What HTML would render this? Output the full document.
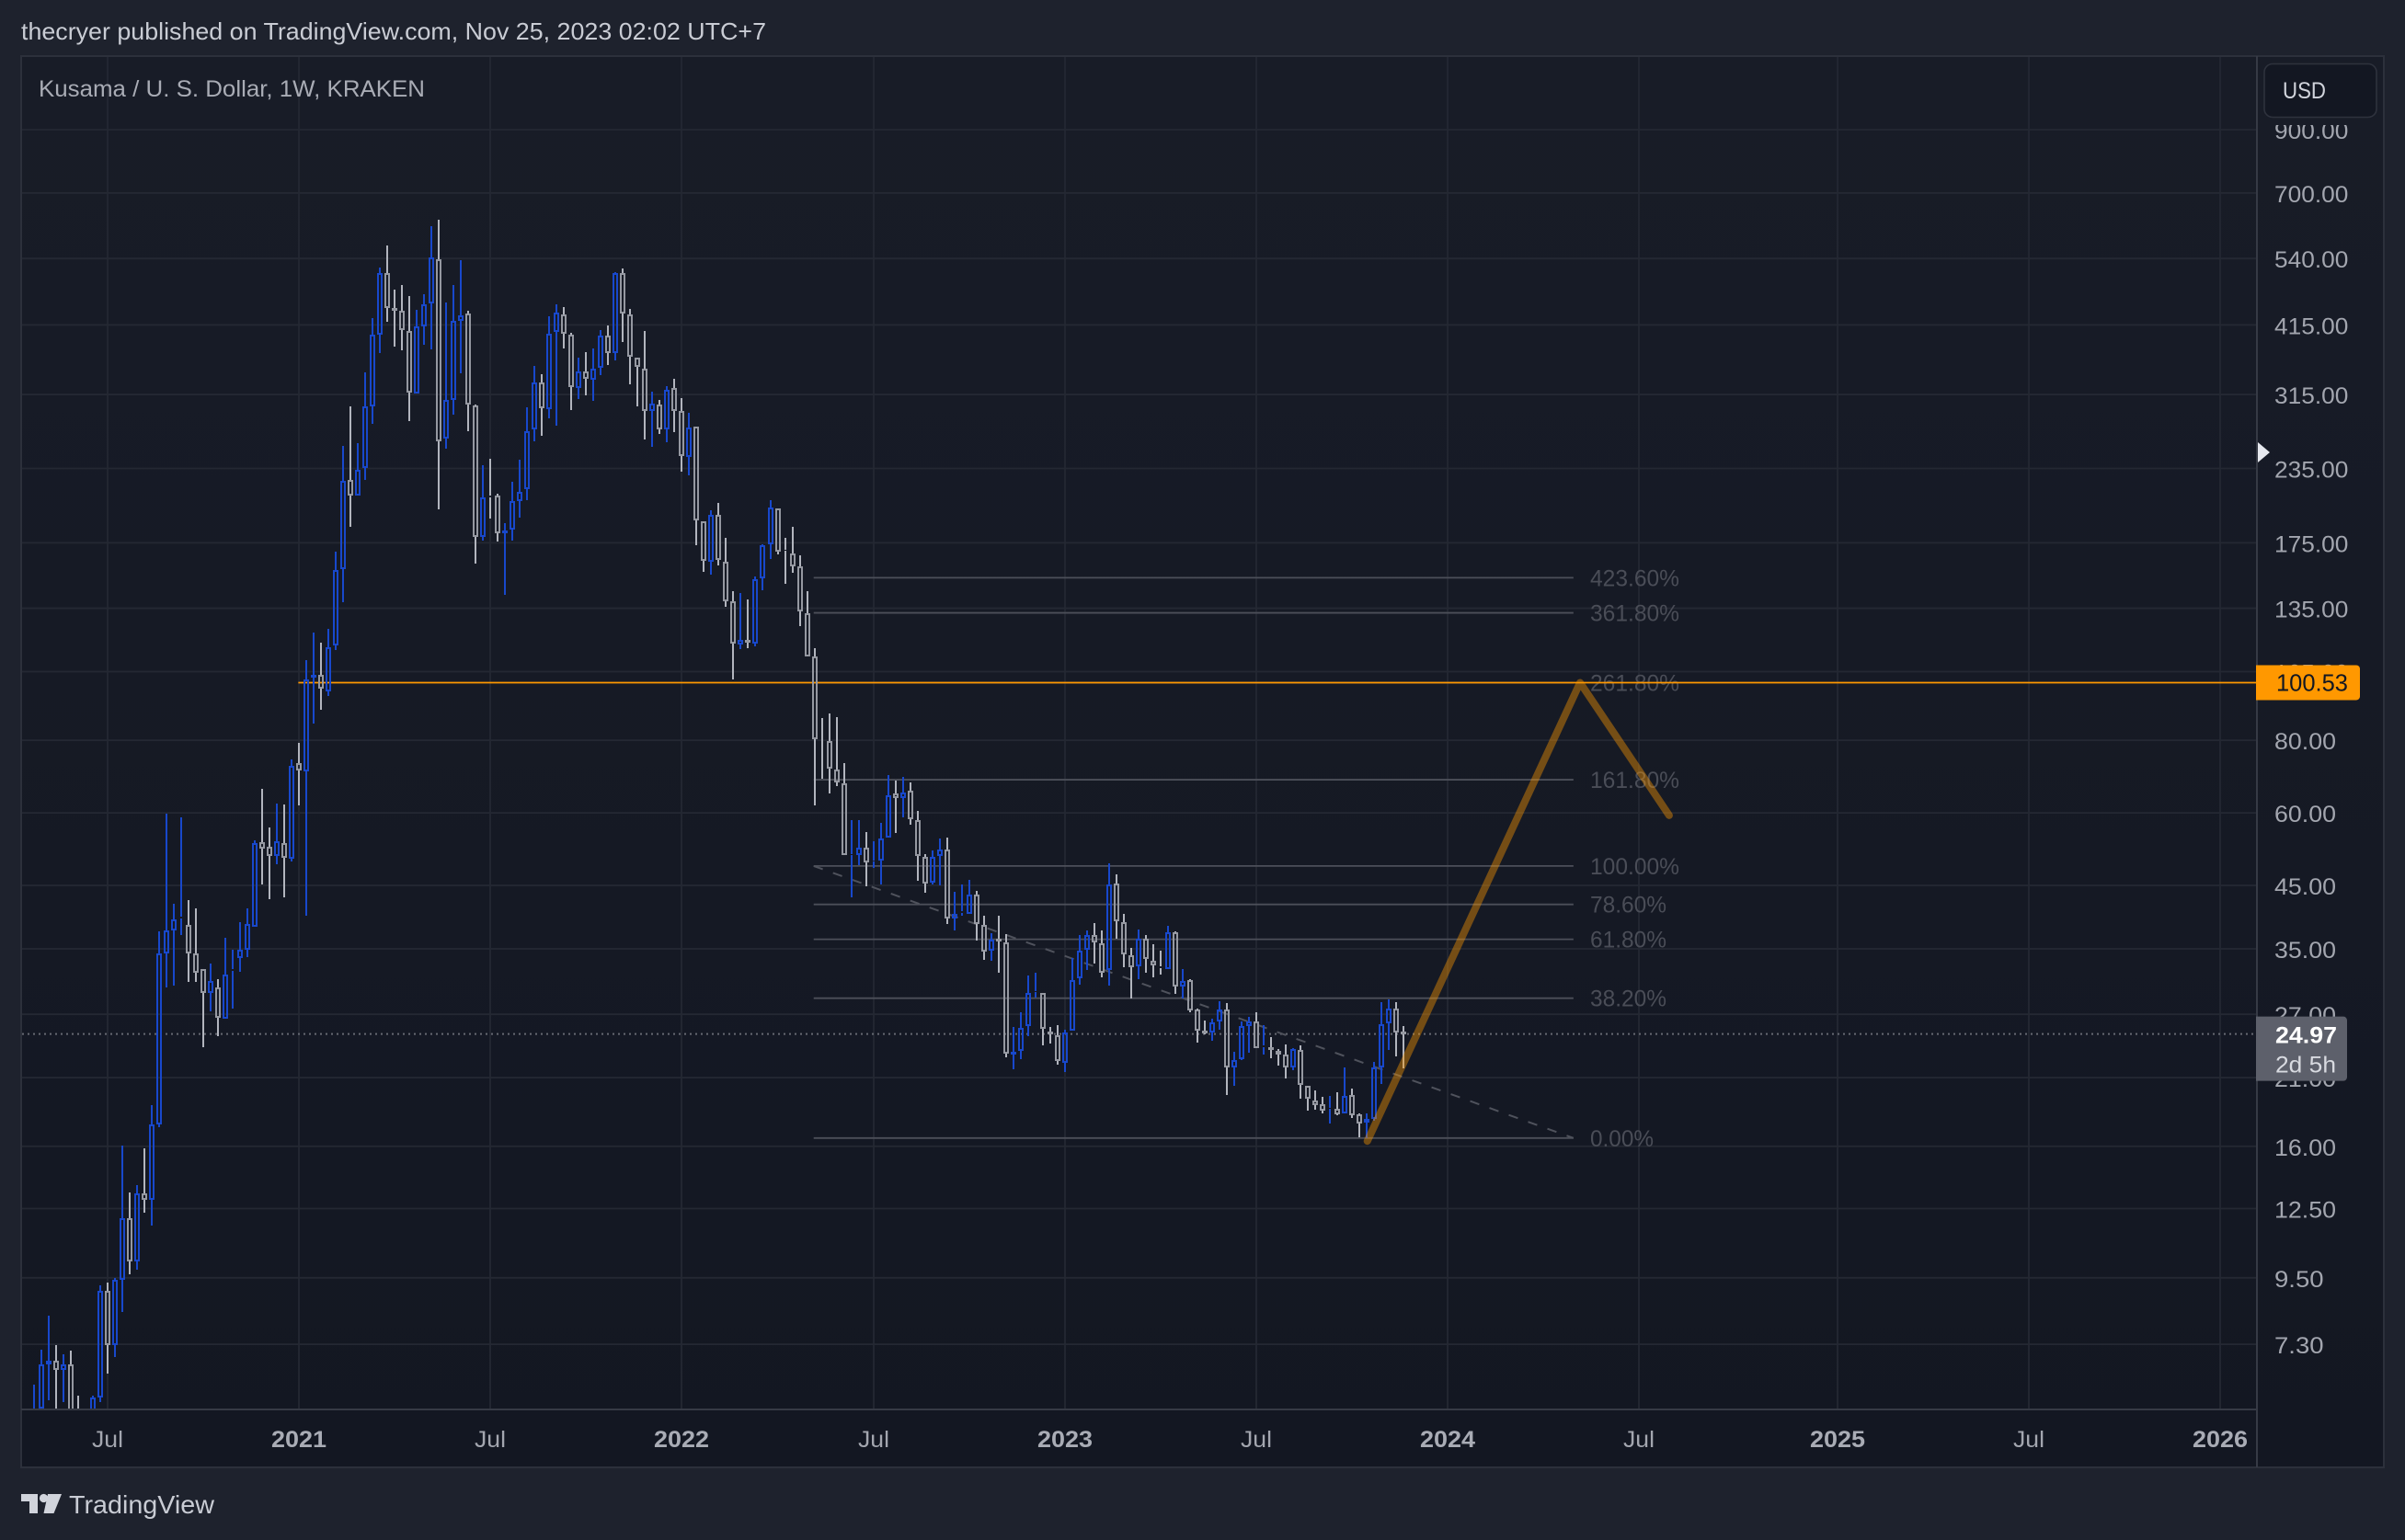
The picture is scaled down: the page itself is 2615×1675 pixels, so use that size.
<!DOCTYPE html>
<html lang="en">
<head>
<meta charset="utf-8">
<title>Kusama / U. S. Dollar, 1W, KRAKEN</title>
<style>
html,body{margin:0;padding:0;background:#1e222d;width:2615px;height:1675px;overflow:hidden}
svg{display:block}
text{font-family:"Liberation Sans",sans-serif}
</style>
</head>
<body>
<svg id="chart" xmlns="http://www.w3.org/2000/svg" width="2615" height="1675" viewBox="0 0 2615 1675">
  <defs>
    <linearGradient id="paneBg" x1="0" y1="0" x2="0" y2="1">
      <stop offset="0" stop-color="#181c27"/>
      <stop offset="1" stop-color="#131722"/>
    </linearGradient>
    <clipPath id="plotClip"><rect x="24" y="62" width="2429" height="1470"/></clipPath>
  </defs>
  <rect x="0" y="0" width="2615" height="1675" fill="#1e222d"/>
  <text x="23" y="43" font-size="26" fill="#c9ccd4" textLength="810" lengthAdjust="spacingAndGlyphs">thecryer published on TradingView.com, Nov 25, 2023 02:02 UTC+7</text>
  <rect x="23" y="61" width="2569" height="1535" fill="url(#paneBg)" stroke="#2c303b" stroke-width="2"/>
  <g id="gridLayer"></g>
  <g id="axisCover"></g>
  <g id="drawBelow" clip-path="url(#plotClip)"></g>
  <g id="candleLayer" clip-path="url(#plotClip)"></g>
  <g id="drawAbove" clip-path="url(#plotClip)"></g>
  <line x1="2454" y1="61" x2="2454" y2="1596" stroke="#363a45" stroke-width="2"/>
  <line x1="23" y1="1533" x2="2454" y2="1533" stroke="#363a45" stroke-width="2"/>
  <text x="42" y="105" font-size="25" fill="#a9acb5" textLength="420" lengthAdjust="spacingAndGlyphs">Kusama / U. S. Dollar, 1W, KRAKEN</text>
  <g id="timeAxis"></g>
  <rect x="2456" y="63" width="134" height="73" fill="#181c27"/>
  <g>
    <rect x="2462" y="69.5" width="122" height="58" rx="9" fill="#131722" stroke="#2e323d" stroke-width="1.6"/>
    <text x="2482" y="107" font-size="25" fill="#d1d4dc" textLength="47" lengthAdjust="spacingAndGlyphs">USD</text>
  </g>
  <polygon points="2455,481 2468,492 2455,503" fill="#e6e8ee"/>
  <g id="labelLayer"></g>
  <g>
    <path d="M23 1625H41V1646H32V1633H23Z M52 1625H67L58.5 1646H47.5Z" fill="#d1d4dc"/>
    <circle cx="47.5" cy="1629.5" r="4.6" fill="#d1d4dc"/>
    <text x="75" y="1646" font-size="28" fill="#c9ccd4" textLength="158" lengthAdjust="spacingAndGlyphs">TradingView</text>
  </g>
</svg>
<script>
// Weekly OHLC values, in USD, oldest first
const opens = [
5.62,5.66,6.74,6.83,6.59,6.73,5.50,5.11,5.40,5.92,
9.03,7.27,9.44,12.03,10.15,13.27,12.95,17.46,34.38,37.66,
39.42,38.51,34.38,32.34,29.34,30.07,26.50,32.09,33.72,34.84,
38.15,53.46,52.50,50.48,53.31,49.95,73.2,70.7,102.6,103.6,
97.2,116.5,157.7,224.8,211.1,235.2,300.2,398.8,510.2,444.2,
438.2,405.6,315.8,412.7,451.3,539,264.2,307.9,421.3,434.7,
301.9,179.2,210.8,210.8,181.6,184.2,206.5,216.3,274,330.7,
296.9,403.2,433.1,399.7,323.2,345.6,333.6,349.8,398.4,371.2,
510.2,433.1,365,349.3,294.8,303,274,323.6,295.6,245.6,
277.6,190.8,162.3,195.7,162.5,138.9,117,119.2,117.4,152,
173.8,200.7,170,167.9,159.1,132.5,111.7,80.7,79.7,71.3,
67.5,50.68,50.68,52.3,49.47,49.6,54.4,64.9,63.6,65.6,
58.4,50.4,45.44,50.55,51.8,39.42,40.4,40.15,43.35,38.5,
34.75,36.45,35.9,23.0,23.35,25.75,29.45,29.4,25.25,24.85,
22.25,25.3,31.2,34.9,36.95,35.8,32.15,45.35,38.9,34.15,
32.6,36.45,33.4,32.6,32.3,37.4,30.1,30.9,27.5,25.3,
25.1,26.2,27.55,21.85,22.6,25.8,26.25,23.7,23.7,23.35,
23.05,21.85,23.4,20.35,19.2,18.9,18.55,18.55,18.2,19.6,
18.15,17.55,17.85,21.9,26.05,27.65,25.2];
const highs = [
6.21,7.15,8.17,7.27,7.02,7.11,5.96,5.58,5.96,9.23,
9.31,9.51,16.07,13.30,13.71,15.88,18.87,37.57,59.8,41.80,
58.85,42.40,41.07,32.34,32.97,30.98,36.50,34.84,38.96,41.03,
53.72,65.9,56.53,62.2,62.0,74.1,79.1,109.8,122.6,117.7,
124.2,168.7,256.6,300.2,259.4,343.5,426.4,521,568.6,477.3,
486.1,464.8,440.4,468.7,613.9,629.7,453.1,486.1,535.8,438.2,
302.3,238,243.9,212.8,188.9,222.9,243.3,299.1,352.6,341.3,
429,449.8,444.9,401.7,364.1,372.2,377.6,406.1,413.6,511.6,
518.6,441.8,365,404.7,318,308.2,325.6,334.9,310.5,292.6,
277.6,190.8,199,204.7,178.3,144.4,143.5,139.8,153,174.2,
207.2,200.7,178.3,186.2,166.3,144.4,115.2,87.3,88.9,87.6,
73,58.4,58.4,55.5,53.7,57.6,69.6,68.1,69.1,67.8,
60.4,50.87,51.7,54.1,54.3,43.86,45.1,45.95,44.1,39.85,
37.2,39.85,37.1,25.65,27.2,31.45,31.8,29.4,25.7,25.9,
25.39,33.7,36.9,37.6,38.7,37.6,49.05,46.95,40.15,35.15,
37.85,37,35.7,34.7,38.3,37.55,32.25,31,27.65,26.3,
26.5,28.4,28.2,23.3,26.2,26.7,27.25,25.9,24.65,23.55,
24,23.65,23.9,20.35,20,19.45,19.5,19.85,21.9,20.1,
18.25,18.2,22.35,28.32,28.65,28.32,25.75];
const lows = [
5.50,5.64,5.85,5.50,5.81,5.11,4.75,4.93,5.20,5.81,
6.49,6.95,8.31,9.62,9.82,12.29,11.68,17.28,30.07,30.27,
36.97,30.74,30.74,23.70,27.35,24.80,26.50,27.62,31.96,33.90,
38.15,45.19,42.66,49.0,42.97,49.4,61.7,39.9,85.5,90.3,
95.2,114.6,138.3,186.2,210.9,224.8,280.7,371.7,420.2,381.1,
375.3,283.7,315.8,383.6,376.7,200,254.3,290.8,342.9,272.5,
161.1,176.3,192.5,175.6,142.4,176.6,193.6,207.5,262,267.8,
286.9,278.7,378.5,296.4,309.7,314.2,307.2,340.5,354.6,360.9,
387.8,328.3,300.8,263.8,256.4,269.7,260.9,271.7,232.3,228.9,
173.5,155.9,154.3,160,135.8,101.9,115,115.4,115.9,145.2,
164.3,167.4,148.9,155.6,125.9,111.5,61.7,68.7,64.9,66.7,
50.7,42.97,48.8,44.9,48.3,45.2,54.4,55.3,58.9,57.2,
45.9,43.7,45.2,45.04,38.65,37.67,39.95,40.15,36.2,33.55,
33.4,31.85,22.8,21.75,22.6,24.75,28.85,23.9,24.05,22.15,
21.5,25.3,30.4,32.2,33.05,31.3,30.2,36.45,32.55,28.75,
31.05,31.85,31.3,31.6,32.3,29.3,28.75,27.25,24.15,24.95,
24.35,25.39,19.6,20.35,22.55,23.2,23.65,23.05,22.7,22.05,
20.95,21.6,19.35,18.4,18.5,18.25,17.5,18.1,18.2,17.9,
16.6,16.55,17.7,20.5,23.4,22.85,21.8];
const closes = [
5.66,6.73,6.83,6.59,6.73,5.50,4.93,5.40,5.92,9.03,
7.27,9.41,12.03,10.15,13.27,12.95,17.46,34.38,37.66,39.38,
39.83,34.38,31.81,29.34,30.82,26.63,31.65,32.26,34.88,38.66,
53.31,52.15,50.48,53.67,50.28,72.3,71.0,101.9,103.6,98.0,
115.5,157.3,224.0,211.3,234.0,300.8,399.7,510.2,443.2,438.2,
406.1,317.7,413.0,450.7,542.9,261.3,308.5,422,431.5,302.3,
179.2,209.8,209.8,181.6,183.9,206.7,214.4,272.5,330.7,298.3,
401.2,436.3,400.3,324.1,345.1,334.9,349.3,398.4,371.2,510.2,
434.2,365.5,351.1,294.8,303.8,274,321.2,294.8,246.5,276.6,
191.5,162.7,195.7,163.3,138.6,117.3,119.2,117.7,151.6,173.5,
201.5,168.8,169.4,159.3,133.2,111.5,80.3,80.5,71.4,67.6,
50.74,50.87,52.3,49.23,49.7,54.2,64.4,63.6,65.1,58.6,
50.5,45.27,50.4,51.8,39.42,40.2,40.6,43.35,38.6,34.6,
36.25,36.0,23.1,23.3,25.6,29.4,29.6,25.45,24.95,22.4,
25.1,30.95,34.7,36.95,35.85,31.8,45.2,39.05,34.3,32.5,
36.45,33.6,32.77,32.4,37.4,30.1,30.85,27.4,25.3,25.05,
26.15,27.55,21.85,22.55,25.8,26.25,23.65,23.85,23.4,23.05,
21.85,23.5,20.4,19.3,18.85,18.45,18.6,18.15,19.55,18.1,
17.5,17.85,21.9,26,27.65,25.15,24.97];

// Axis tick values and labels
const priceTicks = [900,700,540,415,315,235,175,135,105,80,60,45,35,27,21,16,12.5,9.5,7.3];
const timeTickLabels = ["Jul","2021","Jul","2022","Jul","2023","Jul","2024","Jul","2025","Jul","2026"];
const timeTickWeeks = [10,36,62,88,114,140,166,192,218,245,271,297];

// Fibonacci drawing
const fibLowPrice = 16.53;
const fibHighPrice = 48.6;
const fibRatios = [0,0.382,0.618,0.786,1,1.618,2.618,3.618,4.236];
const fibStartWeek = 105.9;
const fibEndWeek = 209.1;

// Other annotations
const lastPrice = 24.97;
const lastCountdown = "2d 5h";
const resistancePrice = 100.53;
const resistanceStartWeek = 35.9;
const projectionWeeks = [181.1,210,222.1];
const projectionPrices = [16.33,100.53,59.4];

const NS = "http://www.w3.org/2000/svg";
function xOf(week){ return 37 + 8.005 * week; }
function yOf(price){ return 141 + 274.4 * Math.log(900 / price); }
function make(parent, tag, attrs, text){
  const el = document.createElementNS(NS, tag);
  for (const k in attrs) el.setAttribute(k, attrs[k]);
  if (text !== undefined) el.textContent = text;
  parent.appendChild(el);
  return el;
}
const grid = document.getElementById("gridLayer");
const axisCover = document.getElementById("axisCover");
const below = document.getElementById("drawBelow");
const candles = document.getElementById("candleLayer");
const above = document.getElementById("drawAbove");
const timeAxis = document.getElementById("timeAxis");
const labels = document.getElementById("labelLayer");

// Horizontal gridlines and price ticks
priceTicks.forEach(function(p){
  const y = yOf(p);
  const line = make(grid, "line", {x1:24, x2:2453, y1:y, y2:y, stroke:"#242833", "stroke-width":1.8});
  
  
  const s = p.toFixed(2);
  const t = make(axisCover, "text", {x:2473, y:y + 10, "font-size":25, fill:"#a3a6af", textLength:s.length * 13.4, lengthAdjust:"spacingAndGlyphs"}, s);
  
  
});

// Vertical gridlines and time ticks
timeTickWeeks.forEach(function(w, i){
  const x = Math.round(xOf(w));
  const line = make(grid, "line", {x1:x, x2:x, y1:62, y2:1532, stroke:"#242833", "stroke-width":1.8});
  
  
  const s = timeTickLabels[i];
  const isYear = s.length === 4;
  const t = make(timeAxis, "text", {x:x, y:1574, "font-size":25, "text-anchor":"middle", fill:isYear ? "#a9acb5" : "#a3a6af", "font-weight":isYear ? "700" : "400", textLength:isYear ? 60 : 34, lengthAdjust:"spacingAndGlyphs"}, s);
  
  
});

// Last price dotted line
const lastLine = make(below, "line", {x1:24, x2:2453, y1:yOf(lastPrice), y2:yOf(lastPrice), stroke:"#666973", "stroke-width":2, "stroke-dasharray":"2 4"});



// Fibonacci levels
fibRatios.forEach(function(r){
  const price = fibLowPrice + (fibHighPrice - fibLowPrice) * r;
  const y = yOf(price);
  const line = make(below, "line", {x1:xOf(fibStartWeek), x2:xOf(fibEndWeek), y1:y, y2:y, stroke:"#4c4f59", "stroke-width":1.8});
  
  
  const s = (r * 100).toFixed(2) + "%";
  const t = make(below, "text", {x:1729, y:y + 9, "font-size":25, fill:"#4a4d57", textLength:s.length * 14 - 1, lengthAdjust:"spacingAndGlyphs"}, s);
  
  
});

// Fibonacci dashed trend line
const fibTrend = make(below, "line", {x1:xOf(fibStartWeek), y1:yOf(fibHighPrice), x2:xOf(fibEndWeek), y2:yOf(fibLowPrice), stroke:"#4f525c", "stroke-width":2, "stroke-dasharray":"10.5 11.8"});



// Resistance line
const resY = yOf(resistancePrice);
const resLine = make(below, "line", {x1:xOf(resistanceStartWeek), x2:2454, y1:resY, y2:resY, stroke:"#ff9800", "stroke-width":1.8});



// Candles
opens.forEach(function(o, i){
  const c = closes[i];
  const up = c >= o;
  const x = Math.round(xOf(i));
  const top = Math.round(yOf(Math.max(o, c)));
  const bot = Math.round(yOf(Math.min(o, c)));
  const hi = Math.round(yOf(highs[i]));
  const lo = Math.round(yOf(lows[i]));
  const wickColor = up ? "#1848cc" : "#b2b5be";
  const bodyColor = up ? "#1848cc" : "#9598a1";
  const g = make(candles, "g", {});
  
  
  if (top > hi) make(g, "rect", {x:x - 1, y:hi, width:2, height:top - hi, fill:wickColor});
  if (lo > bot) make(g, "rect", {x:x - 1, y:bot, width:2, height:lo - bot, fill:wickColor});
  const h = Math.max(bot - top - 2, 0);
  make(g, "rect", {x:x - 2, y:top + 1, width:4, height:h, fill:"none", stroke:bodyColor, "stroke-width":2});
});

// Projection path
const projectionPoints = projectionWeeks.map(function(w, i){ return xOf(w) + "," + yOf(projectionPrices[i]); }).join(" ");
const projection = make(above, "polyline", {points:projectionPoints, fill:"none", stroke:"rgba(255,152,0,0.41)", "stroke-width":8, "stroke-linecap":"round", "stroke-linejoin":"round"});



// Price axis labels
const resBox = make(labels, "path", {d:"M2453 " + (resY - 19) + "H2562a4 4 0 0 1 4 4V" + (resY + 15) + "a4 4 0 0 1 -4 4H2453Z", fill:"#ff9800"});


const resText = make(labels, "text", {x:2475, y:resY + 9, "font-size":26, fill:"#131722", textLength:78, lengthAdjust:"spacingAndGlyphs"}, resistancePrice.toFixed(2));



const lastY = yOf(lastPrice);
const lastBox = make(labels, "path", {d:"M2453 " + (lastY - 19) + "H2548a4 4 0 0 1 4 4V" + (lastY + 47) + "a4 4 0 0 1 -4 4H2453Z", fill:"#5d606b"});


const lastText = make(labels, "text", {x:2474, y:lastY + 10, "font-size":25, "font-weight":"700", fill:"#ffffff", textLength:67, lengthAdjust:"spacingAndGlyphs"}, lastPrice.toFixed(2));


const countdownText = make(labels, "text", {x:2474, y:lastY + 42, "font-size":25, fill:"#d8dae0", textLength:66, lengthAdjust:"spacingAndGlyphs"}, lastCountdown);


</script>
</body>
</html>
